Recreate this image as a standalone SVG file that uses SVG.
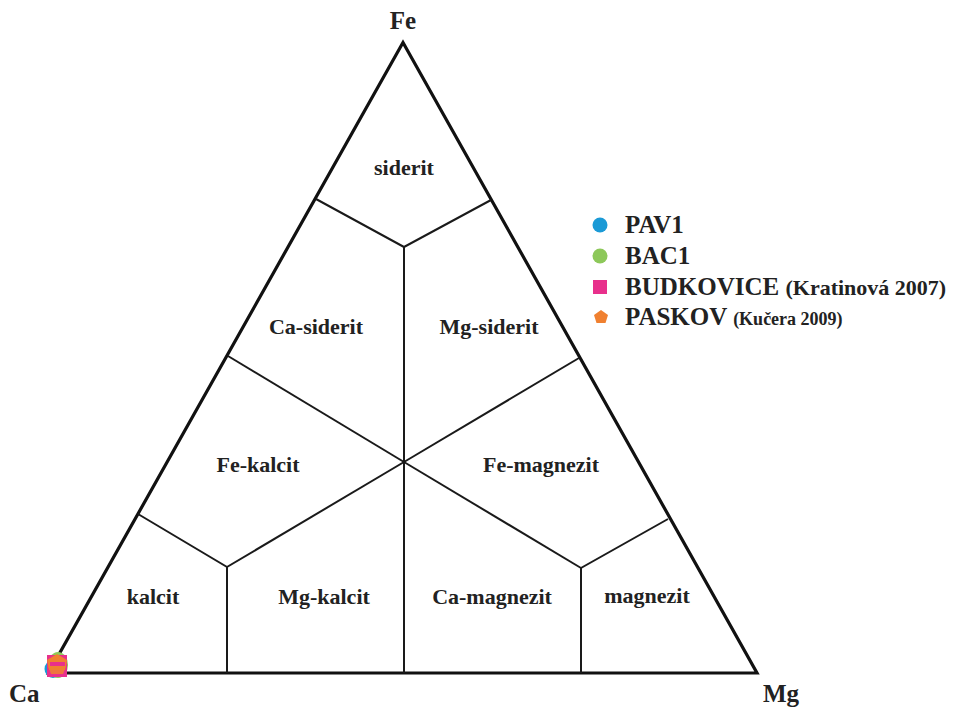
<svg xmlns="http://www.w3.org/2000/svg" width="958" height="711" viewBox="0 0 958 711">
<style>
.edge{fill:none;stroke:#111;stroke-width:3.2;stroke-linejoin:miter}
.ln{fill:none;stroke:#1a1a1a;stroke-width:2}
.lbl{font-family:"Liberation Serif","Times New Roman",serif;font-weight:bold;font-size:22px;fill:#222;text-anchor:middle}
.vx{font-family:"Liberation Serif","Times New Roman",serif;font-weight:bold;font-size:25px;fill:#222}
.lg{font-family:"Liberation Serif","Times New Roman",serif;font-weight:bold;font-size:25px;fill:#222}
.lgk{font-size:22px}
.lgs{font-size:18px}
</style>
<rect width="958" height="711" fill="#fff"/>
<g id="connectors">
<polygon class="edge" points="403,42.5 757,673 48.5,673"/>
<polyline class="ln" points="316,199 404,247 491,200"/>
<line class="ln" x1="404" y1="247" x2="404" y2="673"/>
<line class="ln" x1="228" y1="356" x2="404" y2="462"/>
<line class="ln" x1="579" y1="358" x2="404" y2="462"/>
<line class="ln" x1="227" y1="567" x2="404" y2="462"/>
<line class="ln" x1="581" y1="568" x2="404" y2="462"/>
<polyline class="ln" points="138,514 227,567 227,673"/>
<polyline class="ln" points="668,519 581,568 581,673"/>
</g>
<g id="vertex-Fe"><text class="vx" x="403" y="29" text-anchor="middle">Fe</text></g>
<g id="vertex-Ca"><text class="vx" x="9" y="702">Ca</text></g>
<g id="vertex-Mg"><text class="vx" x="763" y="702">Mg</text></g>
<g id="siderit"><text class="lbl" x="404" y="175">siderit</text></g>
<g id="ca-siderit"><text class="lbl" x="316" y="334">Ca-siderit</text></g>
<g id="mg-siderit"><text class="lbl" x="489" y="334">Mg-siderit</text></g>
<g id="fe-kalcit"><text class="lbl" x="258" y="472">Fe-kalcit</text></g>
<g id="fe-magnezit"><text class="lbl" x="541" y="472">Fe-magnezit</text></g>
<g id="kalcit"><text class="lbl" x="153" y="604">kalcit</text></g>
<g id="mg-kalcit"><text class="lbl" x="324" y="604">Mg-kalcit</text></g>
<g id="ca-magnezit"><text class="lbl" x="492" y="604">Ca-magnezit</text></g>
<g id="magnezit"><text class="lbl" x="647" y="603">magnezit</text></g>
<g id="data-points">
<ellipse cx="53" cy="669" rx="8.5" ry="9" fill="#1b9ad6"/>
<ellipse cx="58" cy="665" rx="10" ry="13" fill="#8dc85a"/>
<rect x="47" y="655" width="20" height="22" fill="#e8308c"/>
<polygon points="57,654 67,660 65,670 49,670 47,660" fill="#f08030"/>
<polygon points="57,661 66,666 63,674 51,674 48,666" fill="#f08030" opacity="0.85"/>
<rect x="50" y="662" width="15" height="4" fill="#e8308c"/>
</g>
<g id="legend">
<circle cx="600" cy="225" r="7.5" fill="#1b9ad6"/>
<text class="lg" x="625" y="233">PAV1</text>
<circle cx="600" cy="256" r="7.5" fill="#8dc85a"/>
<text class="lg" x="625" y="264">BAC1</text>
<rect x="593" y="280" width="14" height="14" fill="#e8308c"/>
<text class="lg" x="625" y="295">BUDKOVICE <tspan class="lgk">(Kratinová 2007)</tspan></text>
<polygon points="601,310 608,315 605.5,323 596.5,323 594,315" fill="#f08030"/>
<text class="lg" x="625" y="325">PASKOV <tspan class="lgs">(Kučera 2009)</tspan></text>
</g>
</svg>
